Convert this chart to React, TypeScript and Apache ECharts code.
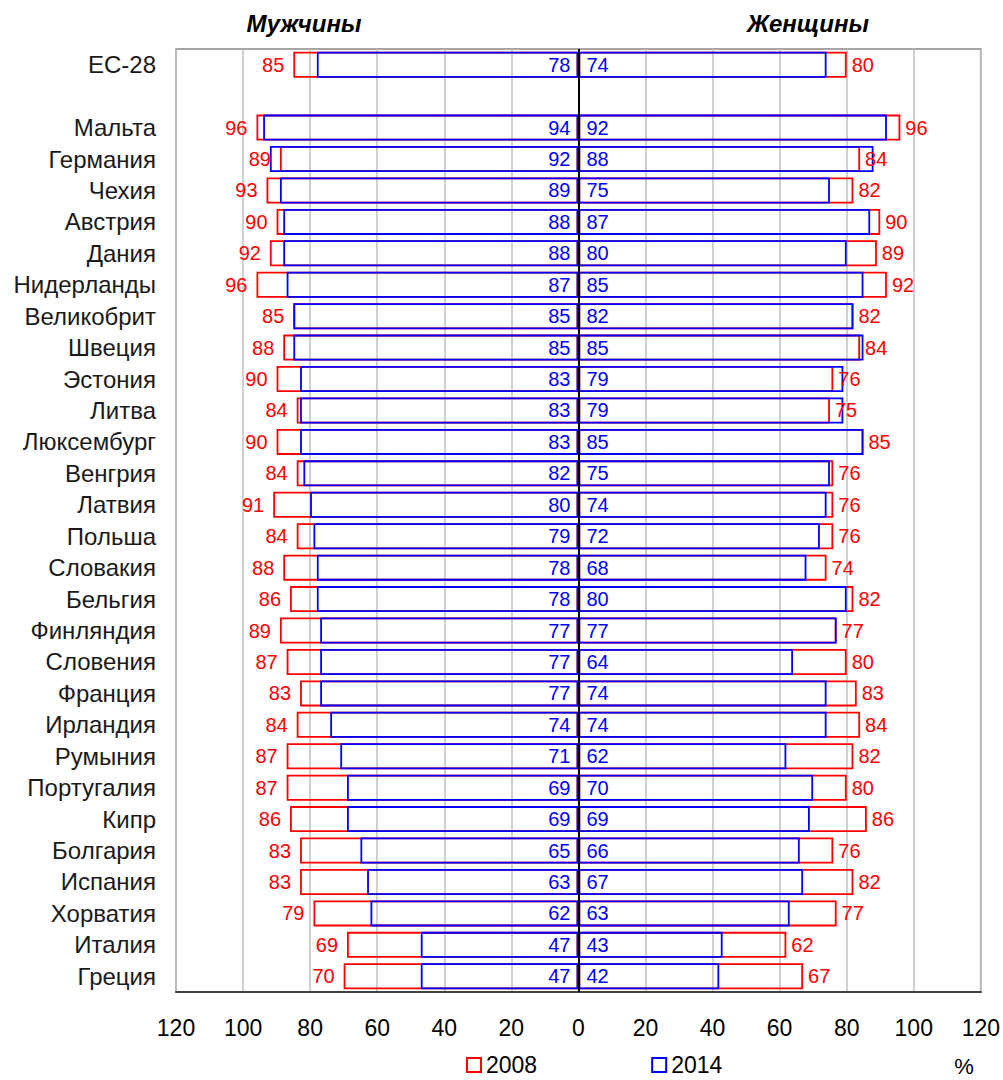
import React, { useEffect, useRef } from "react";
import * as echarts from "echarts";

const categories = [
  "ЕС-28", "", "Мальта", "Германия", "Чехия", "Австрия", "Дания", "Нидерланды",
  "Великобрит", "Швеция", "Эстония", "Литва", "Люксембург", "Венгрия", "Латвия",
  "Польша", "Словакия", "Бельгия", "Финляндия", "Словения", "Франция", "Ирландия",
  "Румыния", "Португалия", "Кипр", "Болгария", "Испания", "Хорватия", "Италия", "Греция",
];
const men2014 = [78, null, 94, 92, 89, 88, 88, 87, 85, 85, 83, 83, 83, 82, 80, 79, 78, 78, 77, 77, 77, 74, 71, 69, 69, 65, 63, 62, 47, 47];
const men2008 = [85, null, 96, 89, 93, 90, 92, 96, 85, 88, 90, 84, 90, 84, 91, 84, 88, 86, 89, 87, 83, 84, 87, 87, 86, 83, 83, 79, 69, 70];
const women2014 = [74, null, 92, 88, 75, 87, 80, 85, 82, 85, 79, 79, 85, 75, 74, 72, 68, 80, 77, 64, 74, 74, 62, 70, 69, 66, 67, 63, 43, 42];
const women2008 = [80, null, 96, 84, 82, 90, 89, 92, 82, 84, 76, 75, 85, 76, 76, 76, 74, 82, 77, 80, 83, 84, 82, 80, 86, 76, 82, 77, 62, 67];
const xTicks = { min: -120, max: 120, interval: 20 };
const legendNames = ["2008", "2014"];

const RED = "#ff0000";
const BLUE = "#0000ff";
const FONT = "'Liberation Sans', Arial, sans-serif";

export default function App() {
  const ref = useRef<HTMLDivElement>(null);
  useEffect(() => {
    if (!ref.current) return;
    const chart = echarts.init(ref.current, null, { renderer: "svg" });
    const neg = (a: (number | null)[]) => a.map((v) => (v == null ? "-" : -v));
    const pos = (a: (number | null)[]) => a.map((v) => (v == null ? "-" : v));
    const absFmt = (p: any) => String(Math.abs(p.value));
    const barBase = (name: string, color: string) => ({
      type: "bar",
      name,
      barWidth: 26,
      barGap: "-100%",
      itemStyle: { color: "rgba(0,0,0,0)", borderColor: color, borderWidth: 1.8 },
      emphasis: { disabled: true },
    });
    const lbl = (color: string, position: string, distance: number) => ({
      show: true,
      position,
      distance,
      color,
      fontSize: 20,
      fontFamily: FONT,
      formatter: absFmt,
    });
    chart.setOption({
      animation: false,
      textStyle: { fontFamily: FONT },
      grid: { left: 176, right: 22, top: 49, bottom: 88, show: true, borderColor: "#a6a6a6", borderWidth: 2, backgroundColor: "#fff" },
      xAxis: {
        type: "value",
        min: xTicks.min,
        max: xTicks.max,
        interval: xTicks.interval,
        axisLine: { show: true, onZero: false, lineStyle: { color: "#404040", width: 2 } },
        axisTick: { show: false },
        splitLine: { show: true, lineStyle: { color: "#c0c0c0", width: 1.5 } },
        axisLabel: { formatter: (v: number) => String(Math.abs(v)), fontSize: 23, color: "#000", margin: 24, fontFamily: FONT },
      },
      yAxis: {
        type: "category",
        inverse: true,
        data: categories,
        axisLine: { show: false },
        axisTick: { show: false },
        splitLine: { show: false },
        axisLabel: { fontSize: 24, color: "#1a1a1a", margin: 20, fontFamily: FONT },
      },
      legend: {
        data: legendNames,
        left: 466,
        top: 1053,
        padding: 0,
        itemWidth: 14,
        itemHeight: 14,
        itemGap: 114,
        icon: "rect",
        textStyle: { fontSize: 23, lineHeight: 24, color: "#000", fontFamily: FONT },
      },
      graphic: [
        { type: "text", x: 304, y: 23, style: { text: "Мужчины", font: `italic bold 24px ${FONT}`, fill: "#000", align: "center", verticalAlign: "middle" } },
        { type: "text", x: 808, y: 23, style: { text: "Женщины", font: `italic bold 24px ${FONT}`, fill: "#000", align: "center", verticalAlign: "middle" } },
        { type: "text", x: 964, y: 1066, style: { text: "%", font: `22px ${FONT}`, fill: "#000", align: "center", verticalAlign: "middle" } },
      ],
      series: [
        { ...barBase("2008", RED), data: neg(men2008), label: lbl(RED, "left", 9) },
        { ...barBase("2008", RED), data: pos(women2008), label: lbl(RED, "right", 5) },
        { ...barBase("2014", BLUE), data: neg(men2014), label: lbl(BLUE, "insideRight", 8) },
        {
          ...barBase("2014", BLUE),
          data: pos(women2014),
          label: lbl(BLUE, "insideLeft", 8),
          markLine: {
            silent: true,
            symbol: ["none", "none"],
            label: { show: false },
            lineStyle: { color: "#000", width: 2, type: "solid" },
            data: [{ xAxis: 0 }],
          },
        },
      ],
    });
    return () => chart.dispose();
  }, []);
  return (
    <div
      ref={ref}
      style={{ position: "fixed", left: 0, top: 0, width: 1003, height: 1080, background: "#fff" }}
    />
  );
}
